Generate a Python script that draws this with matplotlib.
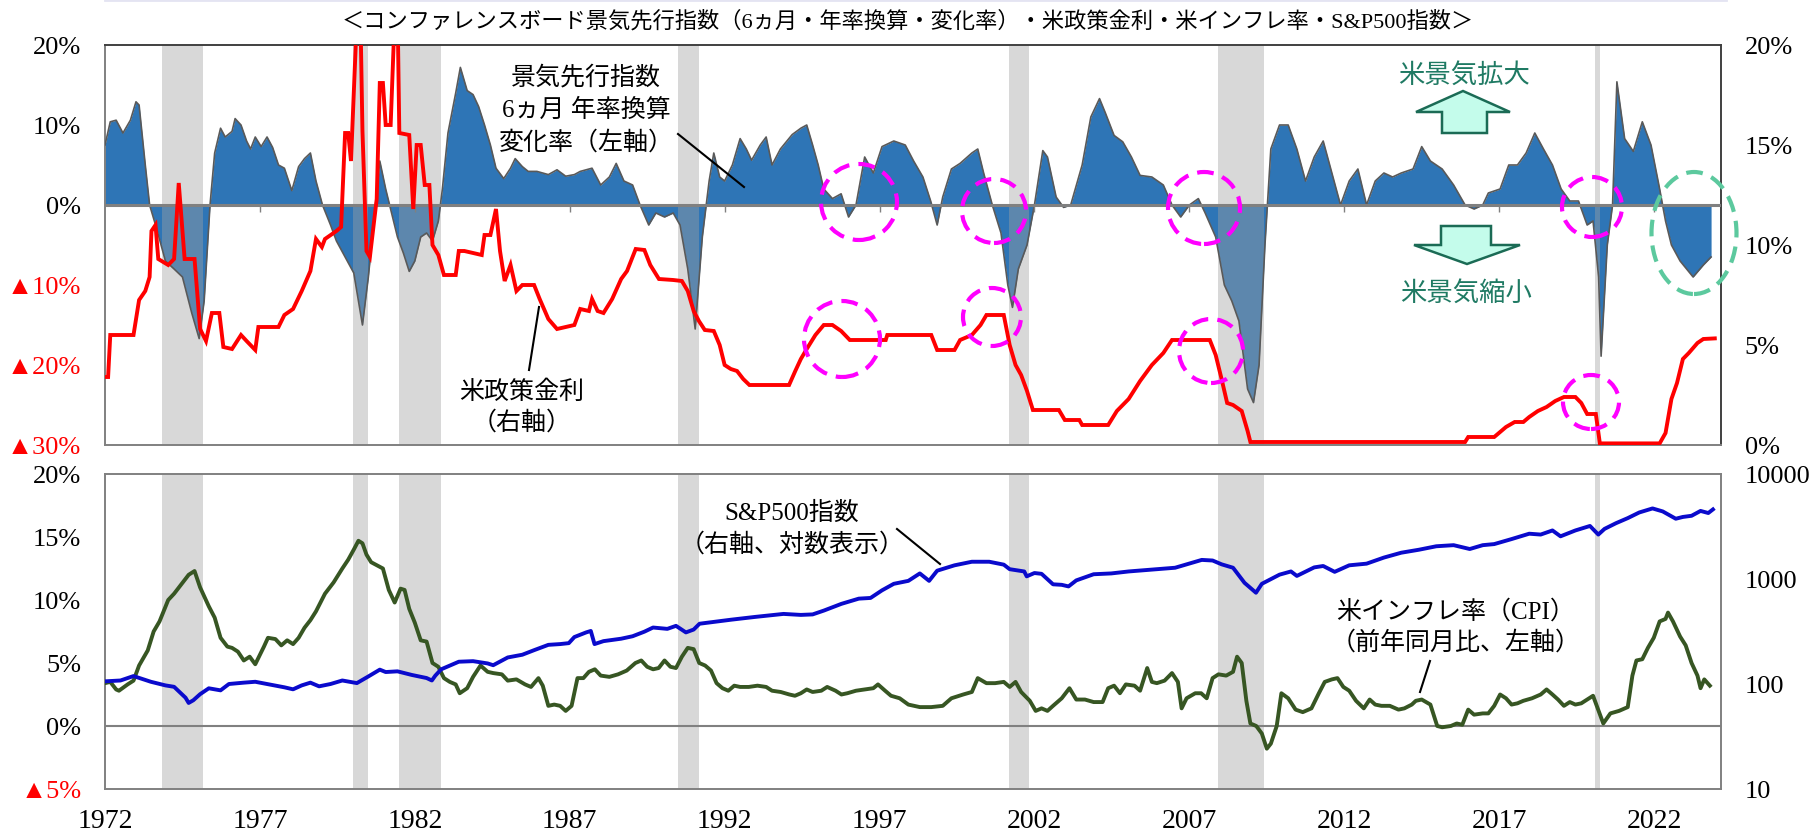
import matplotlib
matplotlib.use("Agg")
import matplotlib.pyplot as plt
from matplotlib.patches import Ellipse, Polygon
from matplotlib.lines import Line2D
from matplotlib.ticker import NullLocator

W, H = 1818, 837
plt.rcParams['font.family'] = ['Liberation Serif', 'Noto Sans CJK JP', 'DejaVu Sans']

# --- data ---
recession_start = [1973.83, 1980.0, 1981.5, 1990.5, 2001.17, 2007.92, 2020.08]
recession_end = [1975.17, 1980.5, 1982.83, 1991.17, 2001.83, 2009.42, 2020.25]

# leading index, 6-month annualised change (%)
lei_year = [1972.0, 1972.17, 1972.36, 1972.58, 1972.82, 1973.0, 1973.1, 1973.3, 1973.44, 1973.67,
            1973.95, 1974.23, 1974.5, 1974.8, 1975.04, 1975.2, 1975.39, 1975.54, 1975.73, 1975.88,
            1976.1, 1976.2, 1976.39, 1976.57, 1976.7, 1976.85, 1977.04, 1977.23, 1977.41, 1977.6,
            1977.79, 1978.03, 1978.25, 1978.44, 1978.63, 1978.81, 1979.02, 1979.28, 1979.47, 1979.75,
            1980.03, 1980.31, 1980.5, 1980.68, 1980.87, 1981.06, 1981.25, 1981.44, 1981.63, 1981.82,
            1982.0, 1982.19, 1982.38, 1982.57, 1982.76, 1982.89, 1983.07, 1983.32, 1983.47, 1983.69,
            1983.88, 1984.06, 1984.25, 1984.44, 1984.62, 1984.87, 1985.09, 1985.24, 1985.47, 1985.66,
            1985.94, 1986.31, 1986.59, 1986.87, 1987.15, 1987.34, 1987.72, 1988.0, 1988.28, 1988.5,
            1988.75, 1989.03, 1989.27, 1989.55, 1989.78, 1990.06, 1990.34, 1990.56, 1990.81, 1991.05,
            1991.28, 1991.5, 1991.65, 1991.84, 1992.0, 1992.25, 1992.5, 1992.7, 1992.87, 1993.15,
            1993.34, 1993.53, 1993.8, 1994.18, 1994.46, 1994.65, 1994.84, 1995.02, 1995.2, 1995.48,
            1995.76, 1996.0, 1996.24, 1996.52, 1996.8, 1997.08, 1997.46, 1997.83, 1998.1, 1998.4,
            1998.65, 1998.86, 1999.04, 1999.32, 1999.6, 1999.98, 2000.17, 2000.36, 2000.64, 2000.92,
            2001.14, 2001.29, 2001.48, 2001.76, 2002.0, 2002.27, 2002.42, 2002.7, 2002.94, 2003.17,
            2003.54, 2003.82, 2004.1, 2004.29, 2004.57, 2004.85, 2005.13, 2005.41, 2005.79, 2006.16,
            2006.44, 2006.72, 2007.0, 2007.29, 2007.51, 2007.85, 2008.13, 2008.37, 2008.6, 2008.88,
            2009.07, 2009.25, 2009.44, 2009.63, 2009.91, 2010.19, 2010.47, 2010.75, 2011.03, 2011.32,
            2011.6, 2011.88, 2012.16, 2012.44, 2012.72, 2013.0, 2013.28, 2013.56, 2013.84, 2014.22,
            2014.5, 2014.78, 2015.16, 2015.53, 2015.9, 2016.19, 2016.47, 2016.65, 2017.03, 2017.31,
            2017.59, 2017.87, 2018.15, 2018.43, 2018.72, 2019.0, 2019.28, 2019.56, 2019.84, 2020.03,
            2020.21, 2020.29, 2020.49, 2020.66, 2020.8, 2021.05, 2021.33, 2021.62, 2021.9, 2022.18,
            2022.37, 2022.56, 2022.84, 2023.26, 2023.59, 2023.84]
lei_val = [7.5, 10.4, 10.6, 9.0, 10.6, 12.9, 12.5, 5.0, 0.0, -3.0,
           -7.0, -8.0, -9.0, -13.5, -16.7, -12.0, 0.0, 6.5, 9.6, 8.5,
           9.2, 10.8, 10.0, 8.0, 7.0, 8.5, 7.3, 8.5, 7.2, 5.0,
           4.6, 1.8, 4.8, 5.8, 6.5, 3.0, 0.0, -2.5, -4.5, -6.5,
           -8.5, -15.0, -9.0, -2.0, 5.5, 2.0, -1.0, -4.0, -6.0, -8.3,
           -7.0, -4.0, -3.5, -4.5, -2.0, 2.0, 9.0, 14.0, 17.2, 14.3,
           13.8, 12.3, 10.0, 7.5, 4.6, 3.3, 4.6, 5.8, 4.8, 4.2,
           4.2, 3.8, 4.4, 3.6, 3.8, 4.2, 4.6, 2.5, 3.5, 5.2,
           3.0, 2.5, 0.0, -2.5, -1.0, -1.5, -1.0, -2.5, -8.0, -15.5,
           -4.0, 3.0, 6.5, 3.5, 3.0, 5.0, 8.3, 7.0, 5.6, 7.5,
           8.5, 5.0, 7.0, 8.8, 9.6, 10.0, 7.5, 5.0, 2.0, 0.8,
           1.4, -1.5, 0.0, 6.0, 4.0, 7.3, 8.0, 7.5, 5.5, 3.5,
           0.5, -2.5, 1.0, 4.5, 5.2, 6.5, 7.0, 4.0, 0.0, -3.5,
           -10.0, -12.8, -8.0, -5.0, 0.0, 6.8, 6.0, 1.0, -0.3, 0.0,
           5.0, 11.0, 13.3, 11.5, 8.7, 7.9, 6.0, 3.7, 3.5, 2.5,
           0.0, -1.5, 0.0, 0.8, -1.0, -4.0, -10.0, -12.0, -14.5, -23.0,
           -24.7, -20.0, -5.0, 7.0, 10.0, 10.0, 7.0, 3.0, 6.0, 8.0,
           4.0, 0.0, 3.0, 4.5, 0.0, 3.0, 4.0, 3.5, 4.0, 4.5,
           7.3, 5.5, 4.5, 2.5, 0.0, -0.5, 0.0, 1.5, 2.0, 5.0,
           5.0, 6.5, 9.0, 7.0, 5.0, 2.0, 0.5, 0.5, -2.5, -2.0,
           -9.0, -18.9, -5.0, 0.0, 15.4, 8.3, 6.7, 10.4, 7.5, 2.0,
           -2.0, -5.0, -7.0, -9.0, -7.5, -6.5]

# US policy rate (%)
ff_year = [1972.0, 1972.1, 1972.17, 1972.92, 1973.1, 1973.3, 1973.44, 1973.5, 1973.63, 1973.72,
           1974.04, 1974.23, 1974.38, 1974.57, 1974.89, 1975.07, 1975.26, 1975.45, 1975.69, 1975.82,
           1976.1, 1976.39, 1976.57, 1976.85, 1976.95, 1977.6, 1977.79, 1978.07, 1978.35, 1978.63,
           1978.81, 1979.0, 1979.1, 1979.47, 1979.62, 1979.75, 1979.85, 1979.94, 1980.12, 1980.25,
           1980.31, 1980.44, 1980.55, 1980.77, 1980.87, 1980.97, 1981.06, 1981.22, 1981.34, 1981.45,
           1981.5, 1981.82, 1981.95, 1982.06, 1982.19, 1982.32, 1982.47, 1982.57, 1982.76, 1982.94,
           1983.32, 1983.42, 1983.6, 1984.16, 1984.25, 1984.44, 1984.62, 1984.75, 1984.9, 1985.09,
           1985.28, 1985.47, 1985.85, 1986.03, 1986.31, 1986.59, 1986.87, 1987.15, 1987.34, 1987.62,
           1987.72, 1987.9, 1988.09, 1988.37, 1988.66, 1988.85, 1989.13, 1989.41, 1989.6, 1989.88,
           1990.34, 1990.62, 1990.81, 1991.0, 1991.17, 1991.36, 1991.65, 1991.84, 1992.0, 1992.2,
           1992.4, 1992.6, 1992.8, 1994.08, 1994.28, 1994.46, 1994.65, 1994.93, 1995.2, 1995.48,
           1995.76, 1996.04, 1997.2, 1997.25, 1998.67, 1998.86, 1999.42, 1999.6, 1999.98, 2000.26,
           2000.45, 2001.01, 2001.2, 2001.39, 2001.57, 2001.76, 2001.95, 2002.79, 2002.98, 2003.45,
           2003.54, 2004.38, 2004.66, 2005.04, 2005.41, 2005.79, 2006.16, 2006.44, 2007.66, 2007.85,
           2008.04, 2008.22, 2008.41, 2008.69, 2008.88, 2008.97, 2015.9, 2016.0, 2016.84, 2017.03,
           2017.22, 2017.5, 2017.78, 2017.97, 2018.25, 2018.53, 2018.81, 2019.09, 2019.46, 2019.65,
           2019.84, 2020.12, 2020.25, 2022.18, 2022.37, 2022.56, 2022.74, 2022.93, 2023.12, 2023.4,
           2023.59, 2023.96]
ff_val = [3.4, 3.4, 5.5, 5.5, 7.25, 7.7, 8.4, 10.7, 11.0, 9.3,
          9.0, 9.3, 13.1, 9.3, 9.3, 5.8, 5.2, 6.6, 6.6, 4.9,
          4.8, 5.5, 5.2, 4.75, 5.9, 5.9, 6.5, 6.8, 7.7, 8.7,
          10.3, 9.9, 10.3, 10.7, 10.9, 15.6, 15.6, 14.2, 21.0, 21.0,
          15.7, 9.7, 9.4, 12.3, 18.1, 18.1, 16.0, 16.0, 21.0, 21.0,
          15.6, 15.5, 11.8, 15.0, 15.0, 13.0, 13.0, 10.0, 9.5, 8.5,
          8.5, 9.7, 9.7, 9.5, 10.5, 10.5, 11.8, 9.7, 8.2, 9.0,
          7.7, 8.0, 8.0, 7.3, 6.3, 5.8, 5.9, 6.0, 6.8, 6.7,
          7.3, 6.7, 6.6, 7.3, 8.3, 8.7, 9.8, 9.75, 9.0, 8.3,
          8.25, 8.2, 7.7, 6.7, 6.2, 5.75, 5.7, 5.0, 4.0, 3.8,
          3.7, 3.3, 3.0, 3.0, 3.7, 4.3, 4.8, 5.5, 6.0, 6.0,
          5.7, 5.25, 5.25, 5.5, 5.5, 4.75, 4.75, 5.25, 5.5, 6.0,
          6.5, 6.5, 5.0, 4.0, 3.5, 2.7, 1.75, 1.75, 1.25, 1.25,
          1.0, 1.0, 1.7, 2.3, 3.2, 4.0, 4.6, 5.25, 5.25, 4.5,
          3.3, 2.1, 2.0, 1.7, 0.7, 0.15, 0.15, 0.4, 0.4, 0.65,
          0.9, 1.15, 1.15, 1.4, 1.7, 1.9, 2.2, 2.4, 2.4, 2.1,
          1.55, 1.55, 0.08, 0.08, 0.6, 2.3, 3.1, 4.3, 4.6, 5.1,
          5.3, 5.33]

# US CPI, year-on-year (%)
cpi_year = [1972.0, 1972.17, 1972.36, 1972.45, 1972.73, 1972.92, 1973.1, 1973.38, 1973.57, 1973.76,
            1974.04, 1974.23, 1974.51, 1974.7, 1974.89, 1975.07, 1975.2, 1975.35, 1975.54, 1975.73,
            1975.95, 1976.1, 1976.29, 1976.48, 1976.67, 1976.85, 1977.13, 1977.26, 1977.5, 1977.69,
            1977.88, 1978.07, 1978.25, 1978.44, 1978.63, 1978.81, 1979.1, 1979.38, 1979.66, 1979.85,
            1980.03, 1980.18, 1980.31, 1980.44, 1980.59, 1980.74, 1980.97, 1981.16, 1981.35, 1981.54,
            1981.67, 1981.82, 1982.0, 1982.19, 1982.38, 1982.57, 1982.76, 1982.94, 1983.13, 1983.32,
            1983.45, 1983.69, 1983.88, 1984.12, 1984.35, 1984.53, 1984.81, 1985.0, 1985.28, 1985.56,
            1985.75, 1985.99, 1986.13, 1986.31, 1986.5, 1986.69, 1986.87, 1987.06, 1987.25, 1987.44,
            1987.62, 1987.81, 1988.0, 1988.28, 1988.56, 1988.84, 1989.12, 1989.31, 1989.5, 1989.69,
            1989.87, 1990.06, 1990.25, 1990.43, 1990.62, 1990.81, 1991.0, 1991.18, 1991.37, 1991.56,
            1991.74, 1991.93, 1992.12, 1992.31, 1992.5, 1992.78, 1993.06, 1993.34, 1993.53, 1993.81,
            1994.09, 1994.27, 1994.46, 1994.65, 1994.84, 1995.12, 1995.31, 1995.58, 1995.77, 1995.96,
            1996.24, 1996.52, 1996.8, 1996.95, 1997.18, 1997.37, 1997.65, 1997.93, 1998.3, 1998.67,
            1999.04, 1999.32, 1999.7, 1999.98, 2000.17, 2000.45, 2000.73, 2001.01, 2001.2, 2001.39,
            2001.57, 2001.85, 2002.04, 2002.23, 2002.42, 2002.6, 2002.88, 2003.13, 2003.35, 2003.63,
            2003.91, 2004.2, 2004.38, 2004.57, 2004.76, 2004.95, 2005.23, 2005.41, 2005.64, 2005.79,
            2005.95, 2006.2, 2006.44, 2006.63, 2006.75, 2006.91, 2007.19, 2007.38, 2007.56, 2007.75,
            2007.94, 2008.19, 2008.41, 2008.54, 2008.69, 2008.84, 2008.97, 2009.16, 2009.34, 2009.5,
            2009.63, 2009.82, 2009.97, 2010.19, 2010.43, 2010.66, 2010.94, 2011.18, 2011.37, 2011.6,
            2011.78, 2011.97, 2012.16, 2012.38, 2012.63, 2012.82, 2013.0, 2013.2, 2013.47, 2013.75,
            2013.94, 2014.18, 2014.31, 2014.5, 2014.78, 2015.0, 2015.16, 2015.44, 2015.63, 2015.81,
            2016.0, 2016.19, 2016.47, 2016.65, 2016.84, 2017.03, 2017.22, 2017.4, 2017.59, 2017.78,
            2018.06, 2018.34, 2018.53, 2018.72, 2018.9, 2019.09, 2019.28, 2019.46, 2019.65, 2019.84,
            2020.03, 2020.21, 2020.36, 2020.59, 2020.87, 2021.15, 2021.3, 2021.43, 2021.62, 2021.8,
            2021.99, 2022.18, 2022.37, 2022.45, 2022.61, 2022.84, 2023.02, 2023.21, 2023.4, 2023.5,
            2023.62, 2023.8]
cpi_val = [3.4, 3.5, 2.9, 2.8, 3.3, 3.6, 4.8, 6.0, 7.5, 8.3,
           10.0, 10.5, 11.4, 12.0, 12.3, 11.0, 10.3, 9.5, 8.6, 7.0,
           6.3, 6.2, 5.9, 5.2, 5.5, 4.9, 6.3, 7.0, 6.9, 6.4,
           6.8, 6.5, 7.0, 7.8, 8.4, 9.1, 10.5, 11.4, 12.5, 13.2,
           14.0, 14.7, 14.5, 13.6, 13.0, 12.8, 12.5, 10.8, 9.8, 10.9,
           10.8, 9.3, 8.2, 6.8, 6.7, 5.0, 4.7, 3.8, 3.5, 3.3,
           2.6, 3.0, 3.9, 4.8, 4.3, 4.2, 4.1, 3.6, 3.7, 3.3,
           3.1, 3.8, 3.2, 1.6, 1.7, 1.6, 1.2, 1.6, 3.8, 3.8,
           4.3, 4.5, 4.0, 3.9, 4.1, 4.4, 5.0, 5.2, 4.7, 4.5,
           4.6, 5.2, 4.7, 4.6, 5.5, 6.2, 6.1, 5.0, 4.8, 4.4,
           3.4, 3.0, 2.8, 3.2, 3.1, 3.1, 3.2, 3.1, 2.8, 2.7,
           2.5, 2.4, 2.6, 2.9, 2.7, 2.8, 3.1, 2.8, 2.5, 2.6,
           2.8, 2.9, 3.0, 3.3, 2.8, 2.4, 2.2, 1.7, 1.5, 1.5,
           1.6, 2.2, 2.5, 2.7, 3.8, 3.4, 3.4, 3.5, 3.1, 3.5,
           2.7, 2.0, 1.2, 1.4, 1.2, 1.6, 2.2, 3.0, 2.1, 2.1,
           1.9, 1.9, 3.0, 3.2, 2.6, 3.3, 3.2, 2.8, 4.6, 3.5,
           3.4, 3.6, 4.2, 3.5, 1.4, 2.2, 2.6, 2.6, 2.2, 3.8,
           4.1, 4.0, 4.3, 5.5, 5.0, 2.0, 0.2, 0.0, -0.6, -1.8,
           -1.4, 0.0, 2.6, 2.2, 1.3, 1.1, 1.4, 2.6, 3.5, 3.7,
           3.8, 3.1, 2.8, 2.0, 1.4, 2.1, 1.7, 1.6, 1.6, 1.3,
           1.4, 1.7, 2.0, 2.1, 1.7, 0.0, -0.1, 0.0, 0.2, 0.1,
           1.3, 0.9, 1.0, 1.0, 1.6, 2.5, 2.2, 1.7, 1.8, 2.0,
           2.2, 2.5, 2.9, 2.5, 2.1, 1.6, 1.9, 1.7, 1.8, 2.1,
           2.4, 1.2, 0.2, 1.0, 1.2, 1.5, 4.0, 5.2, 5.3, 6.2,
           7.0, 8.3, 8.5, 9.0, 8.3, 7.1, 6.4, 5.0, 4.0, 3.0,
           3.7, 3.2]

# S&P500 index level
sp_year = [1972.0, 1972.5, 1972.92, 1973.48, 1973.95, 1974.23, 1974.6, 1974.7, 1974.85, 1975.07,
           1975.35, 1975.73, 1976.0, 1976.48, 1976.85, 1977.23, 1977.79, 1978.07, 1978.35, 1978.63,
           1978.91, 1979.28, 1979.66, 1980.13, 1980.5, 1980.87, 1981.06, 1981.44, 1981.9, 1982.38,
           1982.55, 1982.66, 1982.85, 1983.42, 1983.88, 1984.35, 1984.53, 1985.0, 1985.47, 1985.85,
           1986.31, 1986.69, 1986.97, 1987.15, 1987.53, 1987.68, 1987.8, 1988.09, 1988.66, 1989.03,
           1989.41, 1989.69, 1990.15, 1990.43, 1990.75, 1991.0, 1991.19, 1991.65, 1992.22, 1992.97,
           1993.9, 1994.46, 1994.84, 1995.2, 1995.77, 1996.33, 1996.71, 1997.08, 1997.46, 1997.93,
           1998.3, 1998.6, 1998.86, 1999.42, 1999.98, 2000.54, 2001.01, 2001.2, 2001.67, 2001.75,
           2002.0, 2002.23, 2002.6, 2002.88, 2003.1, 2003.35, 2003.91, 2004.48, 2005.04, 2005.79,
           2006.54, 2007.1, 2007.4, 2007.75, 2008.04, 2008.41, 2008.78, 2009.15, 2009.34, 2009.91,
           2010.28, 2010.47, 2011.03, 2011.32, 2011.69, 2012.16, 2012.72, 2013.28, 2013.84, 2014.41,
           2014.97, 2015.53, 2016.05, 2016.47, 2016.84, 2017.4, 2017.97, 2018.34, 2018.72, 2018.98,
           2019.46, 2019.93, 2020.2, 2020.4, 2020.77, 2021.15, 2021.52, 2021.95, 2022.28, 2022.7,
           2022.93, 2023.21, 2023.5, 2023.75, 2023.9]
sp_val = [106, 108, 119, 105, 97, 94, 74, 66, 70, 80,
          91, 87, 100, 103, 105, 100, 93, 89, 97, 103,
          95, 100, 108, 102, 118, 137, 130, 132, 122, 114,
          108, 120, 138, 163, 165, 157, 151, 179, 190, 210,
          236, 240, 245, 280, 310, 320, 240, 256, 270, 285,
          315, 345, 335, 358, 310, 330, 375, 390, 410, 435,
          465, 455, 460, 500, 580, 650, 660, 780, 900, 960,
          1130, 960, 1200, 1350, 1460, 1460, 1370, 1240, 1180, 1060,
          1140, 1120, 890, 880, 850, 970, 1110, 1130, 1180, 1230,
          1280, 1430, 1520, 1500, 1380, 1280, 920, 740, 900, 1100,
          1180, 1070, 1290, 1330, 1170, 1350, 1400, 1600, 1780, 1900,
          2050, 2100, 1930, 2100, 2150, 2400, 2700, 2650, 2900, 2550,
          2900, 3200, 2650, 3000, 3400, 3800, 4300, 4700, 4400, 3750,
          3900, 4000, 4450, 4250, 4600]

x_ticks = [1972, 1977, 1982, 1987, 1992, 1997, 2002, 2007, 2012, 2017, 2022]
top_left_ticks = [20, 10, 0, -10, -20, -30]
top_left_labels = ['20%', '10%', '0%', '▲10%', '▲20%', '▲30%']
top_right_ticks = [0, 5, 10, 15, 20]
top_right_labels = ['0%', '5%', '10%', '15%', '20%']
bot_left_ticks = [20, 15, 10, 5, 0, -5]
bot_left_labels = ['20%', '15%', '10%', '5%', '0%', '▲5%']
bot_right_ticks = [10, 100, 1000, 10000]
bot_right_labels = ['10', '100', '1000', '10000']

BLUE_FILL = '#2E75B6'
RED = '#FF0000'
SP_BLUE = '#0A0ACC'
CPI_GREEN = '#375623'
BAND = (0.63, 0.63, 0.63)
GRID_GRAY = '#808080'


def fx(x):
    return x / W


def fy(y):
    return 1 - y / H


fig = plt.figure(figsize=(W / 100, H / 100), dpi=100)
ax1 = fig.add_axes([fx(105), fy(446), (1721 - 105) / W, (446 - 46) / H])
ax1r = ax1.twinx()
ax2 = fig.add_axes([fx(105), fy(790), (1721 - 105) / W, (790 - 475) / H])
ax2r = ax2.twinx()

xlim = (1972.0, 2024.16)

# ---- top panel ----
ax1.fill_between(lei_year, lei_val, 0, color=BLUE_FILL, lw=0, zorder=1)
for s, e in zip(recession_start, recession_end):
    ax1.axvspan(s, e, color=BAND, alpha=0.41, lw=0, zorder=2)
    ax2.axvspan(s, e, color=BAND, alpha=0.41, lw=0, zorder=1)
ax1.plot(lei_year, lei_val, color='#595959', lw=1.2, zorder=3)
ax1.axhline(0, color=GRID_GRAY, lw=2.2, zorder=4)
ax1.vlines(x_ticks[1:], -0.9, 0, color=GRID_GRAY, lw=1, zorder=4)
ax1.set_xlim(*xlim)
ax1.set_ylim(-30, 20)
ax1.set_yticks(top_left_ticks)
ax1.set_yticklabels(top_left_labels)
for lbl, v in zip(ax1.get_yticklabels(), top_left_ticks):
    lbl.set_color(RED if v < 0 else 'black')
ax1.tick_params(axis='y', length=0, pad=17, labelsize=19)
ax1.tick_params(axis='x', length=0, labelbottom=False)

ax1r.plot(ff_year, ff_val, color=RED, lw=2.8, solid_joinstyle='miter', zorder=5)
ax1r.set_ylim(0, 20)
ax1r.set_yticks(top_right_ticks)
ax1r.set_yticklabels(top_right_labels)
ax1r.tick_params(axis='y', length=0, pad=17, labelsize=19)
ax1r.set_xlim(*xlim)

ax1.spines['top'].set_color('#404040')
ax1.spines['right'].set_color('#404040')
ax1.spines['left'].set_color(GRID_GRAY)
ax1.spines['bottom'].set_color(GRID_GRAY)
for sp in ax1.spines.values():
    sp.set_linewidth(1.4)
for sp in ax1r.spines.values():
    sp.set_visible(False)

# ---- bottom panel ----
ax2.axhline(0, color=GRID_GRAY, lw=1.5, zorder=2)
ax2.plot(cpi_year, cpi_val, color=CPI_GREEN, lw=2.8, zorder=3)
ax2.set_xlim(*xlim)
ax2.set_ylim(-5, 20)
ax2.set_yticks(bot_left_ticks)
ax2.set_yticklabels(bot_left_labels)
for lbl, v in zip(ax2.get_yticklabels(), bot_left_ticks):
    lbl.set_color(RED if v < 0 else 'black')
ax2.set_xticks(x_ticks)
ax2.set_xticklabels([str(t) for t in x_ticks])
ax2.tick_params(axis='y', length=0, pad=17, labelsize=19)
ax2.tick_params(axis='x', length=0, pad=14, labelsize=20)

ax2r.plot(sp_year, sp_val, color=SP_BLUE, lw=2.8, zorder=4)
ax2r.set_yscale('log')
ax2r.set_ylim(10, 10000)
ax2r.set_yticks(bot_right_ticks)
ax2r.set_yticklabels(bot_right_labels)
ax2r.yaxis.set_minor_locator(NullLocator())
ax2r.tick_params(axis='y', length=0, pad=17, labelsize=19)
ax2r.set_xlim(*xlim)

for sp in ax2.spines.values():
    sp.set_color(GRID_GRAY)
    sp.set_linewidth(1.4)
for sp in ax2r.spines.values():
    sp.set_visible(False)

# ---- title and annotations ----
fig.add_artist(Line2D([fx(105), fx(1726)], [fy(1), fy(1)], color='#E4E4F2', lw=2))
fig.text(fx(908), fy(22),
         '＜コンファレンスボード景気先行指数（6ヵ月・年率換算・変化率）・米政策金利・米インフレ率・S&P500指数＞',
         ha='center', va='center', fontsize=16)

ann = dict(ha='center', va='center', fontsize=18)
fig.text(fx(586), fy(78), '景気先行指数', **ann)
fig.text(fx(586), fy(110), '6ヵ月 年率換算', **ann)
fig.text(fx(586), fy(143), '変化率（左軸）', **ann)
fig.add_artist(Line2D([fx(678), fx(744)], [fy(135), fy(188)], color='black', lw=1.5))

fig.text(fx(522), fy(392), '米政策金利', **ann)
fig.text(fx(522), fy(423), '（右軸）', **ann)
fig.add_artist(Line2D([fx(539), fx(529)], [fy(308), fy(371)], color='black', lw=1.5))

fig.text(fx(792), fy(513), 'S&P500指数', **ann)
fig.text(fx(792), fy(545), '（右軸、対数表示）', **ann)
fig.add_artist(Line2D([fx(897), fx(940)], [fy(530), fy(565)], color='black', lw=1.5))

fig.text(fx(1456), fy(612), '米インフレ率（CPI）', **ann)
fig.text(fx(1456), fy(643), '（前年同月比、左軸）', **ann)
fig.add_artist(Line2D([fx(1430), fx(1420)], [fy(662), fy(693)], color='black', lw=1.5))

TEAL = '#1F7A63'
fig.text(fx(1464), fy(75), '米景気拡大', ha='center', va='center', fontsize=19, color=TEAL)
fig.text(fx(1466), fy(293), '米景気縮小', ha='center', va='center', fontsize=19, color=TEAL)

up_pts = [(1463, 92), (1510, 113), (1487, 113), (1487, 134), (1442, 134), (1442, 113), (1416, 113)]
down_pts = [(1441, 227), (1491, 227), (1491, 246), (1520, 246), (1467, 265), (1414, 246), (1441, 246)]
for pts in (up_pts, down_pts):
    fig.add_artist(Polygon([(fx(a), fy(b)) for a, b in pts], closed=True,
                           facecolor='#C4FCEB', edgecolor='#1B6B55', lw=1.8,
                           transform=fig.transFigure))

# dashed highlight circles (pixel centre, radius)
circles = [(859, 203, 38, 38), (842, 340, 38, 38), (994, 212, 32, 32), (992, 318, 29, 29),
           (1204, 209, 36, 36), (1211, 352, 32, 32), (1592, 208, 30, 30), (1591, 403, 28, 27)]
for cx, cy, rx, ry in circles:
    fig.add_artist(Ellipse((fx(cx), fy(cy)), 2 * rx / W, 2 * ry / H, transform=fig.transFigure,
                           fill=False, edgecolor='#FF00FF', lw=3, linestyle=(0, (4, 2.2))))
fig.add_artist(Ellipse((fx(1694), fy(234)), 2 * 42.5 / W, 2 * 61 / H, transform=fig.transFigure,
                       fill=False, edgecolor='#5CC99E', lw=3, linestyle=(0, (4, 2.2))))

fig.savefig('out.png', dpi=100)
